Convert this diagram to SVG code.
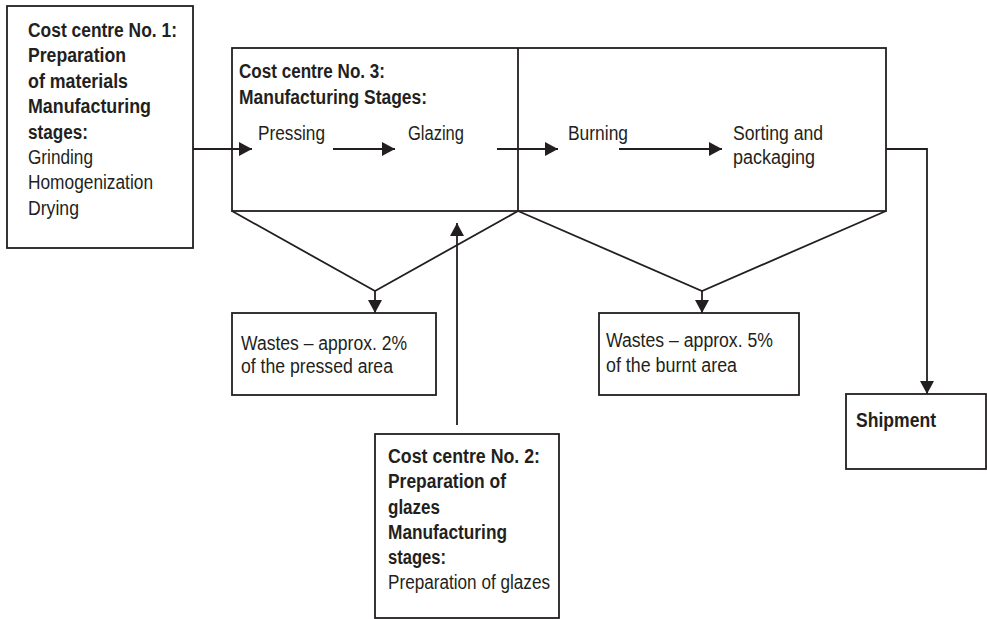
<svg xmlns="http://www.w3.org/2000/svg" width="987" height="619" viewBox="0 0 987 619">
<style>
.box{fill:#fff;stroke:#231f20;stroke-width:1.8}
.ln{fill:none;stroke:#231f20;stroke-width:1.8}
text{font-family:"Liberation Sans",Arial,sans-serif;font-size:19.5px;fill:#231f20}
.b{font-weight:bold}
</style>
<defs>
<marker id="ah" markerWidth="14" markerHeight="14" refX="13" refY="7" orient="auto" markerUnits="userSpaceOnUse"><path d="M0,0 L13,7 L0,14 z" fill="#231f20"/></marker>
</defs>
<g id="cc1">
<rect class="box" x="7" y="6" width="186" height="242"/>
<text class="b" x="28" y="37" textLength="149" lengthAdjust="spacingAndGlyphs">Cost centre No. 1:</text>
<text class="b" x="28" y="62" textLength="98" lengthAdjust="spacingAndGlyphs">Preparation</text>
<text class="b" x="28" y="88" textLength="100" lengthAdjust="spacingAndGlyphs">of materials</text>
<text class="b" x="28" y="113" textLength="123" lengthAdjust="spacingAndGlyphs">Manufacturing</text>
<text class="b" x="28" y="139" textLength="60" lengthAdjust="spacingAndGlyphs">stages:</text>
<text x="28" y="164" textLength="65" lengthAdjust="spacingAndGlyphs">Grinding</text>
<text x="28" y="189" textLength="125" lengthAdjust="spacingAndGlyphs">Homogenization</text>
<text x="28" y="215" textLength="51" lengthAdjust="spacingAndGlyphs">Drying</text>
</g>
<g id="cc3">
<rect class="box" x="232" y="48" width="654" height="163"/>
<line class="ln" x1="518" y1="48" x2="518" y2="211"/>
<text class="b" x="239" y="78" textLength="146" lengthAdjust="spacingAndGlyphs">Cost centre No. 3:</text>
<text class="b" x="239" y="104" textLength="188" lengthAdjust="spacingAndGlyphs">Manufacturing Stages:</text>
<text x="258" y="140" textLength="67" lengthAdjust="spacingAndGlyphs">Pressing</text>
<text x="408" y="140" textLength="56" lengthAdjust="spacingAndGlyphs">Glazing</text>
<text x="568" y="140" textLength="60" lengthAdjust="spacingAndGlyphs">Burning</text>
<text x="733" y="140" textLength="90" lengthAdjust="spacingAndGlyphs">Sorting and</text>
<text x="733" y="164" textLength="82" lengthAdjust="spacingAndGlyphs">packaging</text>
</g>
<g id="waste1">
<rect class="box" x="232" y="313" width="204" height="82"/>
<text x="241" y="350" textLength="166" lengthAdjust="spacingAndGlyphs">Wastes – approx. 2%</text>
<text x="241" y="373" textLength="152" lengthAdjust="spacingAndGlyphs">of the pressed area</text>
</g>
<g id="waste2">
<rect class="box" x="599" y="313" width="200" height="82"/>
<text x="606" y="347" textLength="167" lengthAdjust="spacingAndGlyphs">Wastes – approx. 5%</text>
<text x="606" y="372" textLength="131" lengthAdjust="spacingAndGlyphs">of the burnt area</text>
</g>
<g id="cc2">
<rect class="box" x="375" y="434" width="184" height="184"/>
<text class="b" x="388" y="463" textLength="152" lengthAdjust="spacingAndGlyphs">Cost centre No. 2:</text>
<text class="b" x="388" y="488" textLength="118" lengthAdjust="spacingAndGlyphs">Preparation of</text>
<text class="b" x="388" y="514" textLength="52" lengthAdjust="spacingAndGlyphs">glazes</text>
<text class="b" x="388" y="539" textLength="119" lengthAdjust="spacingAndGlyphs">Manufacturing</text>
<text class="b" x="388" y="564" textLength="58" lengthAdjust="spacingAndGlyphs">stages:</text>
<text x="388" y="589" textLength="162" lengthAdjust="spacingAndGlyphs">Preparation of glazes</text>
</g>
<g id="shipment">
<rect class="box" x="846" y="394" width="140" height="75"/>
<text class="b" x="856" y="427" textLength="80" lengthAdjust="spacingAndGlyphs">Shipment</text>
</g>
<g id="connectors">
<line class="ln" x1="193" y1="149" x2="252" y2="149" marker-end="url(#ah)"/>
<line class="ln" x1="333" y1="149" x2="395" y2="149" marker-end="url(#ah)"/>
<line class="ln" x1="497" y1="149" x2="558" y2="149" marker-end="url(#ah)"/>
<line class="ln" x1="619" y1="149" x2="722" y2="149" marker-end="url(#ah)"/>
<polyline class="ln" points="886,149 927,149 927,394" marker-end="url(#ah)"/>
<polyline class="ln" points="232,211 375,291 518,211"/>
<line class="ln" x1="375" y1="291" x2="375" y2="313" marker-end="url(#ah)"/>
<polyline class="ln" points="518,211 702,291 886,211"/>
<line class="ln" x1="702" y1="291" x2="702" y2="313" marker-end="url(#ah)"/>
<line class="ln" x1="457" y1="425" x2="457" y2="223" marker-end="url(#ah)"/>
</g>
</svg>
